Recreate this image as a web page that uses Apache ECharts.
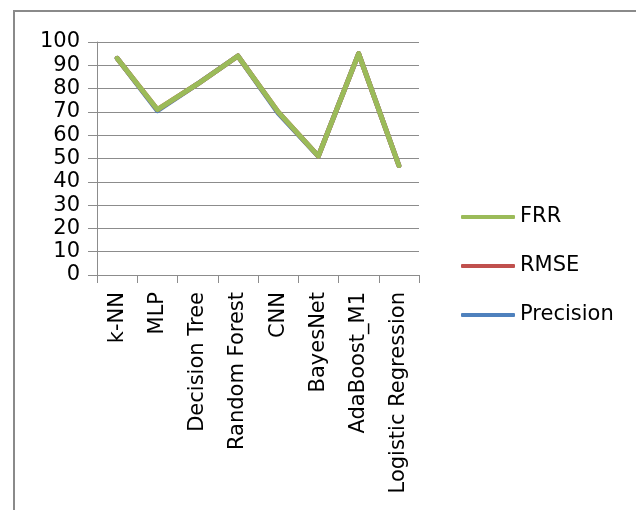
<!DOCTYPE html>
<html>
<head>
<meta charset="utf-8">
<script src="https://cdn.jsdelivr.net/npm/echarts@6/dist/echarts.min.js"></script>
<style>
  html, body { margin: 0; padding: 0; background: #fff; }
  #chart { width: 636px; height: 510px; }
</style>
</head>
<body>
<div id="chart"></div>
<script>
// Classifier names along the x axis
const categories = ['k-NN', 'MLP', 'Decision Tree', 'Random Forest', 'CNN', 'BayesNet', 'AdaBoost_M1', 'Logistic Regression'];

// Series values per classifier
const frrValues = [93, 71, 82, 94, 70, 51, 95, 47];
const rmseValues = [93, 71, 82, 94, 70, 51, 95, 47];
const precisionValues = [93, 70.5, 82, 94, 69.5, 51, 95, 47];

// Value axis range
const yMin = 0;
const yMax = 100;
const yStep = 10;

const FONT = 'DejaVu Sans';
const GRID_COLOR = '#8c8c8c';

const chart = echarts.init(document.getElementById('chart'), null, { renderer: 'canvas' });

const lineSeries = (name, data, color, z) => ({
  name, type: 'line', data, symbol: 'none', z,
  lineStyle: { color, width: 5, cap: 'round', join: 'round' },
  itemStyle: { color }
});

chart.setOption({
  backgroundColor: '#ffffff',
  animation: false,
  textStyle: { fontFamily: FONT },
  graphic: [{
    type: 'rect',
    shape: { x: 14, y: 11, width: 660, height: 540 },
    style: { fill: 'none', stroke: '#8a8a8a', lineWidth: 2 },
    silent: true
  }],
  grid: { left: 97, top: 42, width: 322, height: 233, containLabel: false },
  legend: {
    orient: 'vertical',
    left: 461,
    top: 206,
    padding: 0,
    icon: 'roundRect',
    itemWidth: 54,
    itemHeight: 4,
    itemGap: 27,
    lineStyle: { width: 0 },
    data: ['FRR', 'RMSE', 'Precision'],
    textStyle: { fontFamily: FONT, fontSize: 21, color: '#000', lineHeight: 22 },
    selectedMode: false
  },
  xAxis: {
    type: 'category',
    data: categories,
    boundaryGap: true,
    axisLine: { lineStyle: { color: GRID_COLOR, width: 1 } },
    axisTick: { show: true, length: 8, lineStyle: { color: GRID_COLOR } },
    axisLabel: { rotate: 90, margin: 17, fontSize: 21, color: '#000', fontFamily: FONT, interval: 0 },
    splitLine: { show: false }
  },
  yAxis: {
    type: 'value',
    min: yMin,
    max: yMax,
    interval: yStep,
    axisLine: { show: true, lineStyle: { color: GRID_COLOR, width: 1 } },
    axisTick: { show: true, length: 9, lineStyle: { color: GRID_COLOR } },
    axisLabel: { margin: 17, fontSize: 21, color: '#000', fontFamily: FONT },
    splitLine: { show: true, lineStyle: { color: GRID_COLOR, width: 1 } }
  },
  series: [
    lineSeries('Precision', precisionValues, '#4f81bd', 2),
    lineSeries('RMSE', rmseValues, '#c0504d', 3),
    lineSeries('FRR', frrValues, '#9bbb59', 4)
  ]
});
</script>
</body>
</html>
